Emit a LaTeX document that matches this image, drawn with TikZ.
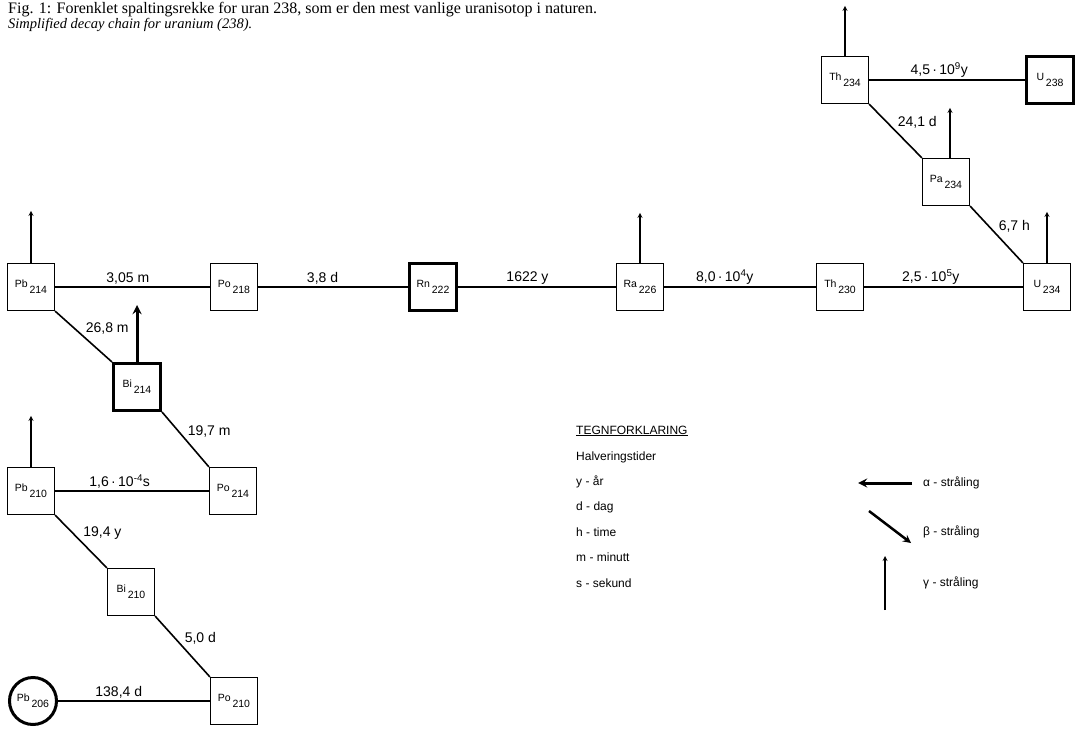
\documentclass[tikz,border=0pt]{standalone}
\usepackage{fontspec}
\setmainfont{Liberation Serif}
\setsansfont{Liberation Sans}
\usetikzlibrary{arrows, positioning}

% element symbol with its mass number set low
\newcommand{\isot}[2]{#1\,\raisebox{-6pt}{#2}}

\begin{document}
\begin{tikzpicture}[
    x=1pt, y=-1pt,
    every node/.style={font=\sffamily},
    nuclide/.style={draw, rectangle, line width=1.2pt, minimum size=47pt, inner sep=0pt, font=\sffamily\fontsize{10.5}{10.5}\selectfont},
    heavy/.style={nuclide, line width=3pt},
    decay/.style={line width=1.6pt},
    halflife/.style={font=\sffamily\fontsize{14}{14}\selectfont, inner sep=1.5pt},
    gammaray/.style={line width=1.2pt, ->, >=stealth},
    legtext/.style={anchor=west, inner sep=0pt, font=\sffamily\fontsize{12}{12}\selectfont}
]
\useasboundingbox (0,0) rectangle (1081,730);

\node (caption) [anchor=north west, align=left, inner sep=0pt, font=\rmfamily\fontsize{16}{15}\selectfont] at (8,2)
    {Fig. 1: Forenklet spaltingsrekke for uran 238, som er den mest vanlige uranisotop i naturen.\\
     {\fontsize{14.5}{15}\selectfont\itshape Simplified decay chain for uranium (238).}};

% nuclides
\node (u238) [heavy] at (1050,80) {\isot{U}{238}};
\node (th234) [nuclide] at (845,80) {\isot{Th}{234}};
\node (pa234) [nuclide] at (946,182) {\isot{Pa}{234}};
\node (u234) [nuclide] at (1047,287) {\isot{U}{234}};
\node (th230) [nuclide] at (840,287) {\isot{Th}{230}};
\node (ra226) [nuclide] at (640,287) {\isot{Ra}{226}};
\node (rn222) [heavy] at (433,287) {\isot{Rn}{222}};
\node (po218) [nuclide] at (234,287) {\isot{Po}{218}};
\node (pb214) [nuclide] at (31,287) {\isot{Pb}{214}};
\node (bi214) [heavy] at (137,387) {\isot{Bi}{214}};
\node (po214) [nuclide] at (233,491) {\isot{Po}{214}};
\node (pb210) [nuclide] at (31,491) {\isot{Pb}{210}};
\node (bi210) [nuclide] at (131,592) {\isot{Bi}{210}};
\node (po210) [nuclide] at (234,701) {\isot{Po}{210}};
\node (pb206) [draw, circle, line width=3pt, minimum size=47pt, inner sep=0pt, font=\sffamily\fontsize{10.5}{10.5}\selectfont] at (33,701) {\isot{Pb}{206}};

% decays
\draw [decay] (th234) -- node[halflife, above, pos=0.45] {4,5\,·\,10\textsuperscript{9}y} (u238);
\draw [decay] (th234.south east) -- node[halflife, above right, pos=0.5] {24,1 d} (pa234.north west);
\draw [decay] (pa234.south east) -- node[halflife, above right, pos=0.5] {6,7 h} (u234.north west);
\draw [decay] (th230) -- node[halflife, above, pos=0.42] {2,5\,·\,10\textsuperscript{5}y} (u234);
\draw [decay] (ra226) -- node[halflife, above, pos=0.4] {8,0\,·\,10\textsuperscript{4}y} (th230);
\draw [decay] (rn222) -- node[halflife, above, pos=0.44] {1622 y} (ra226);
\draw [decay] (po218) -- node[halflife, above, pos=0.43] {3,8 d} (rn222);
\draw [decay] (pb214) -- node[halflife, above, pos=0.47] {3,05 m} (po218);
\draw [decay] (pb214.south east) -- node[halflife, above right, pos=0.5] {26,8 m} (bi214.north west);
\draw [decay] (bi214.south east) -- node[halflife, above right, pos=0.5] {19,7 m} (po214.north west);
\draw [decay] (pb210) -- node[halflife, above, pos=0.42] {1,6\,·\,10\textsuperscript{-4}s} (po214);
\draw [decay] (pb210.south east) -- node[halflife, above right, pos=0.5] {19,4 y} (bi210.north west);
\draw [decay] (bi210.south east) -- node[halflife, above right, pos=0.5] {5,0 d} (po210.north west);
\draw [decay] (pb206) -- node[halflife, above, pos=0.4] {138,4 d} (po210);

% gamma radiation
\draw [gammaray] (th234.north) -- ++(0,-50);
\draw [gammaray] ([xshift=4pt]pa234.north) -- ++(0,-50);
\draw [gammaray] (u234.north) -- ++(0,-51);
\draw [gammaray] (ra226.north) -- ++(0,-50);
\draw [gammaray] (pb214.north) -- ++(0,-52);
\draw [gammaray] (pb210.north) -- ++(0,-51);
\draw [gammaray, line width=3pt] (bi214.north) -- ++(0,-57);

% legend
\node (leghead) [legtext] at (576,431) {\underline{TEGNFORKLARING}};
\node (leghalf) [legtext] at (576,457) {Halveringstider};
\node (legy) [legtext] at (576,482) {y - år};
\node (legd) [legtext] at (576,507) {d - dag};
\node (legh) [legtext] at (576,532) {h - time};
\node (legm) [legtext] at (576,557) {m - minutt};
\node (legs) [legtext] at (576,583) {s - sekund};

\node (alphatext) [legtext] at (923,483) {α - stråling};
\node (betatext) [legtext] at (923,532) {β - stråling};
\node (gammatext) [legtext] at (923,583) {γ - stråling};
\coordinate (alphafrom) at (912,483);
\coordinate (alphato) at (858,483);
\coordinate (betafrom) at (869,511);
\coordinate (betato) at (911,543);
\coordinate (gammafrom) at (885,610);
\coordinate (gammato) at (885,556);
\draw [gammaray, line width=3pt] (alphafrom) -- (alphato);
\draw [gammaray, line width=2.5pt] (betafrom) -- (betato);
\draw [gammaray] (gammafrom) -- (gammato);

\end{tikzpicture}
\end{document}
